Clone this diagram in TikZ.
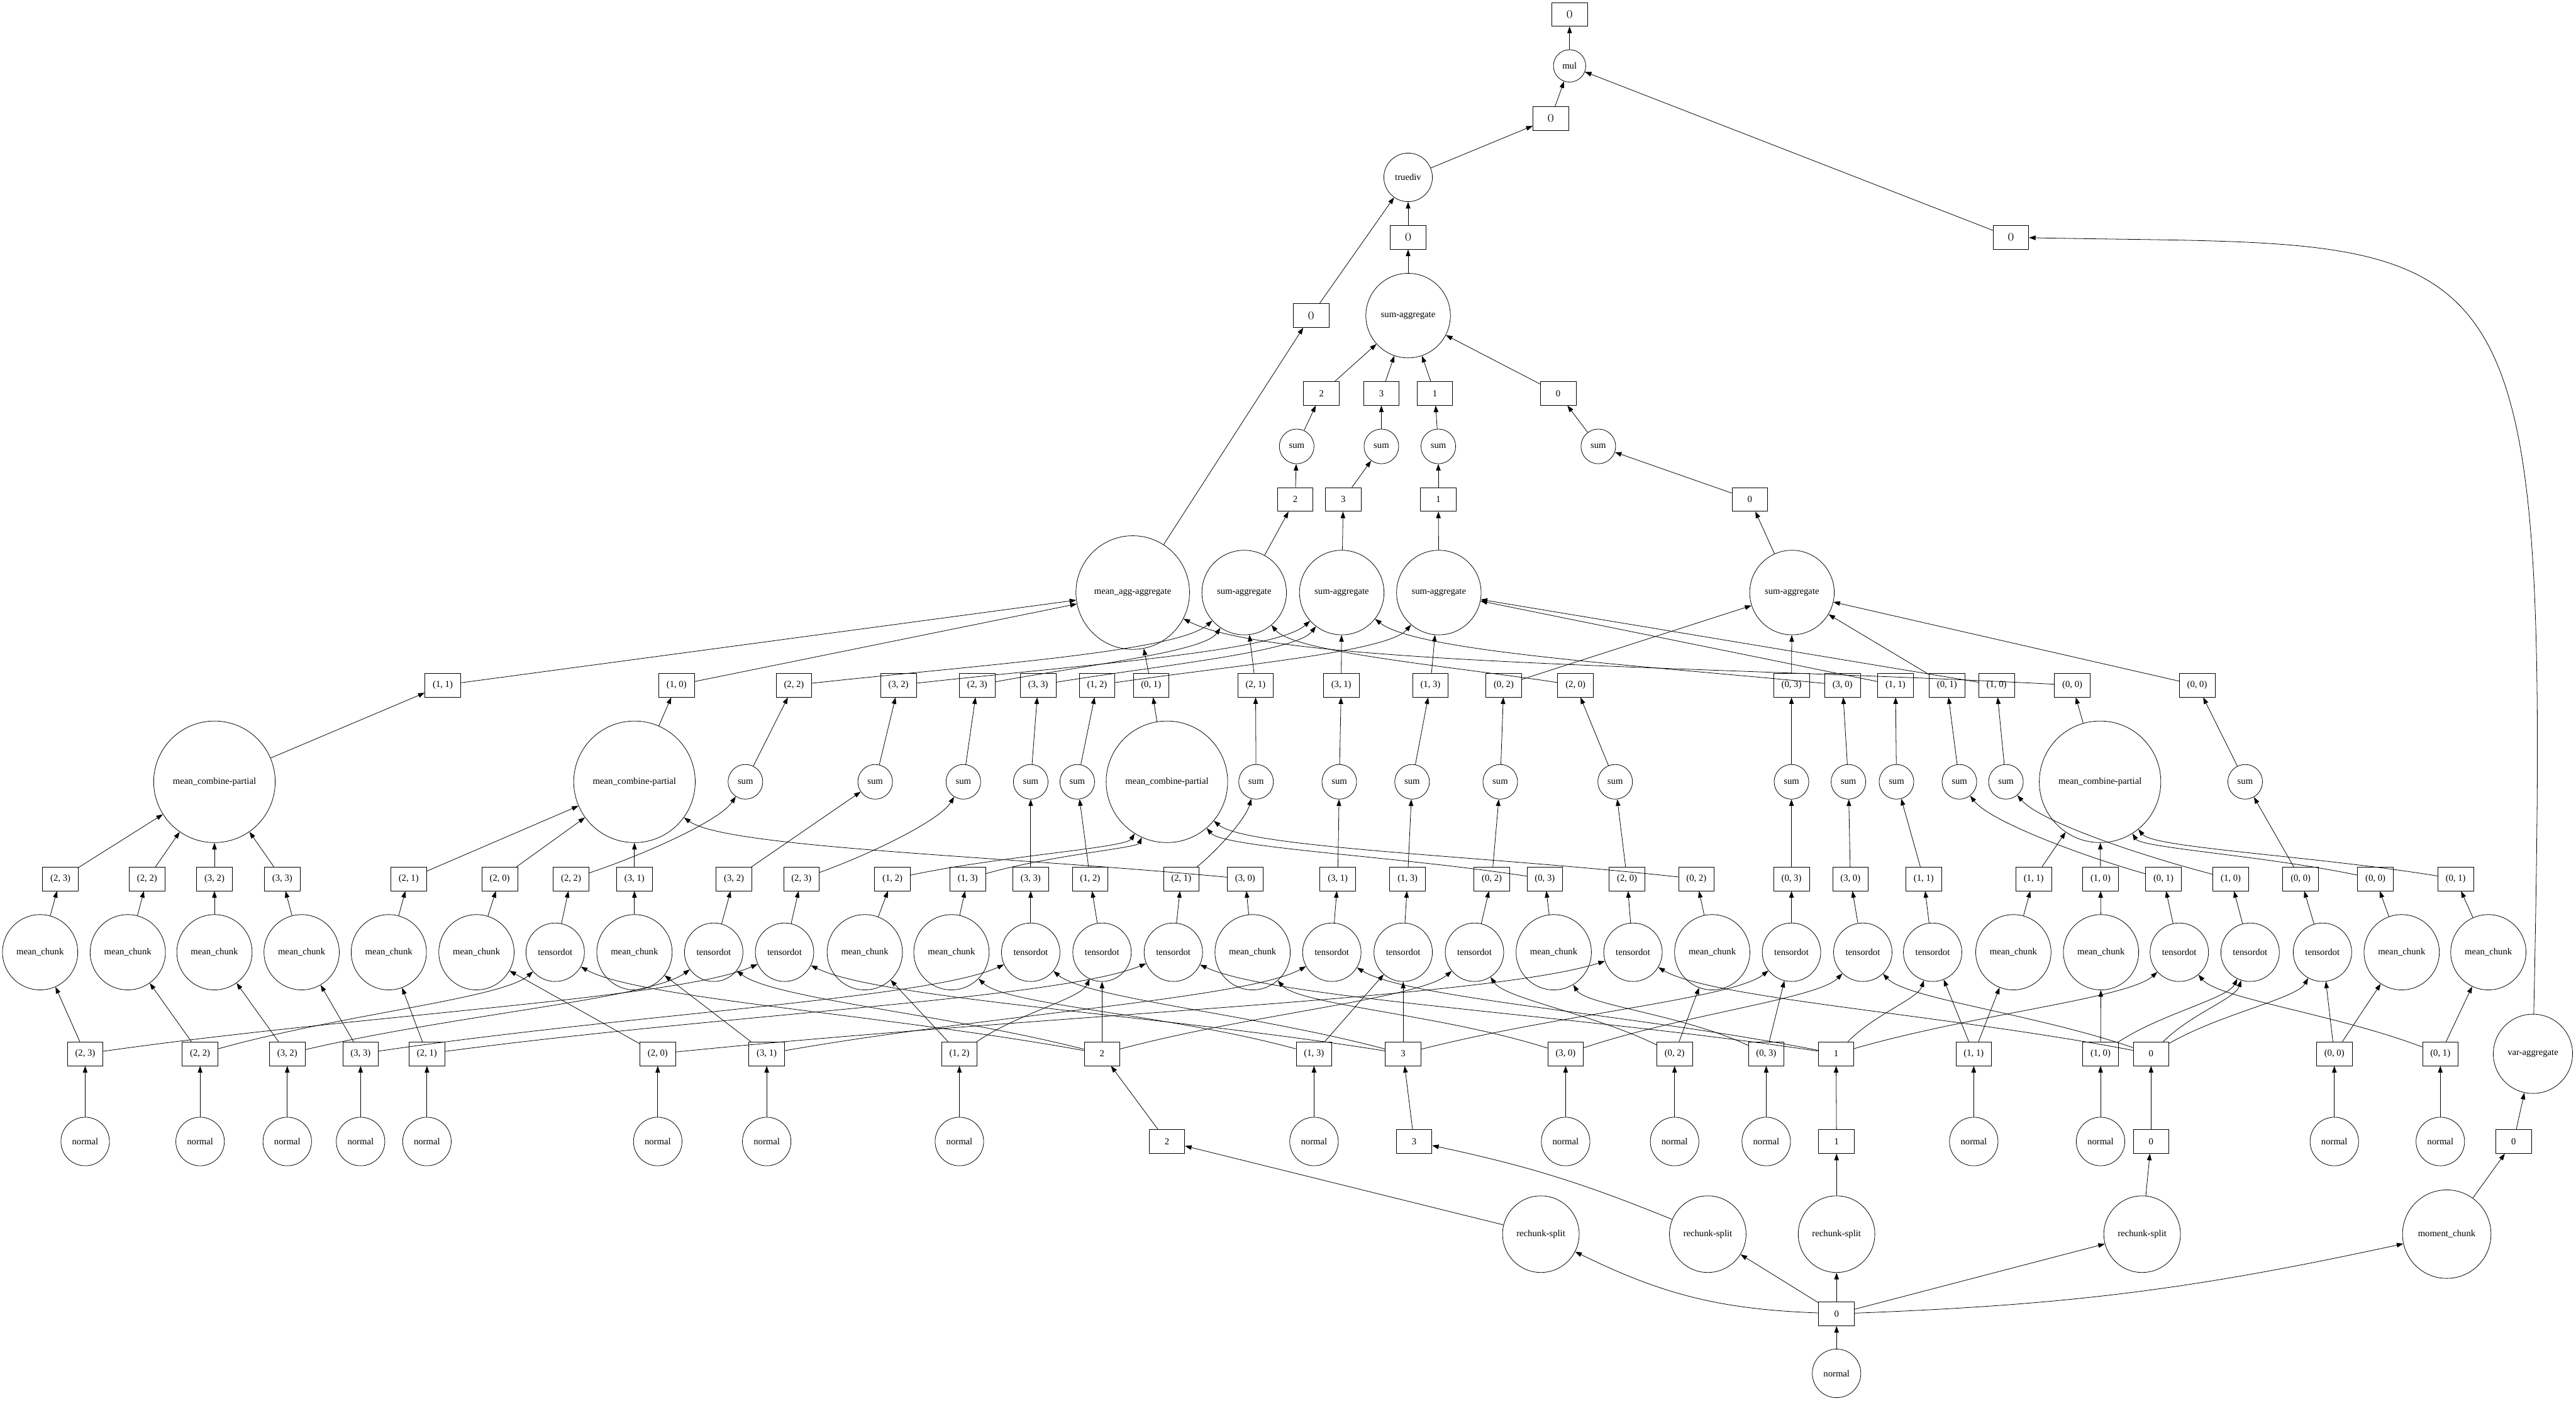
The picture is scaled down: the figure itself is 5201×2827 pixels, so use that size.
\documentclass[tikz,border=0pt]{standalone}
\usepackage{fontspec}
\setmainfont{Liberation Serif}
\usetikzlibrary{arrows.meta,calc}
\tikzset{
  gvbox/.style={draw,rectangle,minimum width=54pt,minimum height=36pt,inner sep=0pt,line width=0.75pt},
  gvcirc/.style={draw,circle,minimum size=#1,inner sep=0pt,line width=0.75pt},
  gvedge/.style={-{Triangle[length=10pt,width=7pt]},line width=0.75pt},
}
% #1 from, #2 to, #3 k1, #4 h1 (rise of first control), #5 k2, #6 h2 (drop of second control)
\newcommand\gvc[6]{\draw[gvedge] let \p1=($(#1)!#3!(#2)$), \p2=($(#2)!#5!(#1)$), \p3=(#1), \p4=(#2) in (#1) .. controls (\x1,\y3+#4) and (\x2,\y4-#6) .. (#2);}
\begin{document}
\begin{tikzpicture}[x=0.75pt,y=-0.75pt,font=\fontsize{14pt}{16pt}\selectfont]
\useasboundingbox (0,0) rectangle (5201,2827);
% ---------- top part
\node[gvbox] (topout) at (3169,29) {()};
\node[gvcirc=49pt] (mul) at (3169,133) {mul};
\node[gvbox] (tdout) at (3131,239) {()};
\node[gvcirc=73.5pt] (truediv) at (2843,358) {truediv};
\node[gvbox] (saout) at (2843,479) {()};
\node[gvbox] (varout) at (4060,479) {()};
\node[gvcirc=128pt] (fsa) at (2843,637) {sum-aggregate};
\node[gvbox] (magout) at (2647,637) {()};
\node[gvbox] (t2) at (2668,794) {2};
\node[gvbox] (t3) at (2789,794) {3};
\node[gvbox] (t1) at (2897,794) {1};
\node[gvbox] (t0) at (3146,794) {0};
\node[gvcirc=52.5pt] (u2) at (2618,901) {sum};
\node[gvcirc=52.5pt] (u3) at (2789,901) {sum};
\node[gvcirc=52.5pt] (u1) at (2904,901) {sum};
\node[gvcirc=52.5pt] (u0) at (3227,901) {sum};
\node[gvbox] (v2) at (2615,1008) {2};
\node[gvbox] (v3) at (2712,1008) {3};
\node[gvbox] (v1) at (2904,1008) {1};
\node[gvbox] (v0) at (3533,1008) {0};
\node[gvcirc=172pt] (mag) at (2287,1196) {mean\_agg-aggregate};
\node[gvcirc=128pt] (sa2) at (2512,1196) {sum-aggregate};
\node[gvcirc=128pt] (sa3) at (2709,1196) {sum-aggregate};
\node[gvcirc=128pt] (sa1) at (2905,1196) {sum-aggregate};
\node[gvcirc=128pt] (sa0) at (3618,1196) {sum-aggregate};
% ---------- mean_combine-partial and their outputs
\node[gvbox] (pA11) at (894,1383) {(1, 1)};
\node[gvbox] (pA10) at (1366,1383) {(1, 0)};
\node[gvbox] (pA01) at (2324,1383) {(0, 1)};
\node[gvbox] (pA00) at (4184,1383) {(0, 0)};
\node[gvcirc=184pt] (mcp11) at (433,1578) {mean\_combine-partial};
\node[gvcirc=184pt] (mcp10) at (1281,1578) {mean\_combine-partial};
\node[gvcirc=184pt] (mcp01) at (2356,1578) {mean\_combine-partial};
\node[gvcirc=184pt] (mcp00) at (4240,1578) {mean\_combine-partial};
% ---------- mean_chunk column
\foreach \i/\j/\cA/\cB in {2/3/81/122, 2/2/258/297, 3/2/433/433, 3/3/609/570, 2/1/785/825, 2/0/962/1009, 3/1/1281/1281, 1/2/1746/1802, 1/3/1921/1954, 3/0/2529/2514, 0/3/3137/3119, 0/2/3457/3425, 1/1/4065/4106, 1/0/4242/4241, 0/0/4849/4796, 0/1/5024/4958}{
  \node[gvcirc=114pt] (MC\i\j) at (\cA,1922) {mean\_chunk};
  \node[gvbox] (mB\i\j) at (\cB,1774) {(\i, \j)};
  \draw[gvedge] (MC\i\j) -- (mB\i\j);
}
% ---------- tensordot column
\foreach \i/\j/\cA/\cB/\cC/\cD in {2/2/1121/1153/1505/1603, 3/2/1441/1482/1767/1814, 2/3/1584/1618/1945/1973, 3/3/2081/2081/2081/2096, 1/2/2225/2201/2175/2215, 2/1/2369/2385/2536/2535, 3/1/2689/2701/2704/2708, 1/3/2833/2842/2851/2888, 0/2/2977/3012/3029/3036, 2/0/3297/3285/3261/3181, 0/3/3617/3617/3617/3617, 3/0/3761/3736/3732/3720, 1/1/3902/3884/3829/3827, 0/1/4400/4368/3956/3931, 1/0/4543/4504/4050/4031, 0/0/4689/4645/4533/4436}{
  \node[gvcirc=88.5pt] (TD\i\j) at (\cA,1922) {tensordot};
  \node[gvbox] (tB\i\j) at (\cB,1774) {(\i, \j)};
  \node[gvcirc=52.5pt] (sm\i\j) at (\cC,1578) {sum};
  \node[gvbox] (qA\i\j) at (\cD,1383) {(\i, \j)};
  \draw[gvedge] (TD\i\j) -- (tB\i\j);
  \draw[gvedge] (sm\i\j) -- (qA\i\j);
}
% ---------- input chunks
\foreach \i/\j/\cA in {2/3/172, 2/2/404, 3/2/580, 3/3/728, 2/1/862, 2/0/1328, 3/1/1548, 1/2/1937, 1/3/2653, 3/0/3161, 0/2/3381, 0/3/3566, 1/1/3985, 1/0/4241, 0/0/4713, 0/1/4927}{
  \node[gvbox] (X\i\j) at (\cA,2127) {(\i, \j)};
  \node[gvcirc=73.5pt] (N\i\j) at (\cA,2304) {normal};
  \draw[gvedge] (N\i\j) -- (X\i\j);
}
\node[gvbox] (Y2) at (2225,2127) {2};
\node[gvbox] (Y3) at (2833,2127) {3};
\node[gvbox] (Y1) at (3707,2127) {1};
\node[gvbox] (Y0) at (4343,2127) {0};
\node[gvcirc=120pt] (VA) at (5114,2127) {var-aggregate};
\node[gvbox] (z2) at (2356,2304) {2};
\node[gvbox] (z3) at (2855,2304) {3};
\node[gvbox] (z1) at (3708,2304) {1};
\node[gvbox] (z0) at (4343,2304) {0};
\node[gvbox] (w0) at (5075,2304) {0};
\node[gvcirc=116pt] (R2) at (3111,2491) {rechunk-split};
\node[gvcirc=116pt] (R3) at (3448,2491) {rechunk-split};
\node[gvcirc=116pt] (R1) at (3708,2491) {rechunk-split};
\node[gvcirc=116pt] (R0) at (4325,2491) {rechunk-split};
\node[gvcirc=134pt] (MOM) at (4940,2491) {moment\_chunk};
\node[gvbox] (src0) at (3708,2652) {0};
\node[gvcirc=73.5pt] (nsrc) at (3708,2772) {normal};
% ---------- bottom edges
\draw[gvedge] (nsrc) -- (src0);
\draw[gvedge] (src0) to[bend left=12] (R2);
\draw[gvedge] (src0) -- (R3);
\draw[gvedge] (src0) -- (R1);
\draw[gvedge] (src0) -- (R0);
\draw[gvedge] (src0) to[bend right=5] (MOM);
\draw[gvedge] (R2) -- (z2);
\draw[gvedge] (R3) to[bend right=5] (z3);
\foreach \a/\b in {R1/z1, R0/z0, MOM/w0, z2/Y2, z3/Y3, z1/Y1, z0/Y0, w0/VA}{\draw[gvedge] (\a) -- (\b);}
% ---------- input chunks -> chunk ops
\foreach \a/\b in {X23/MC23, X22/MC22, X32/MC32, X33/MC33, X21/MC21, X20/MC20, X31/MC31, X12/MC12, X13/TD13, X02/MC02, X03/TD03, X11/MC11, X11/TD11, X10/MC10, X00/MC00, X00/TD00, X01/MC01, Y2/TD12, Y3/TD13}{\draw[gvedge] (\a) -- (\b);}
\foreach \a/\b in {X23/TD23, X22/TD22, X32/TD32, X33/TD33, X21/TD21, X20/TD20, X31/TD31, X12/TD12, X30/TD30, X02/TD02, X10/TD10, X01/TD01, Y2/TD02, Y2/TD22, Y2/TD32, Y3/TD03, Y3/TD23, Y3/TD33, Y1/TD01, Y1/TD11, Y1/TD21, Y1/TD31, Y0/TD00, Y0/TD10, Y0/TD20, Y0/TD30}{\gvc{\a}{\b}{0.4}{60pt}{0.15}{70pt}}
\foreach \a/\b in {X13/MC13, X30/MC30, X03/MC03}{\gvc{\a}{\b}{0.4}{60pt}{0.15}{80pt}}
% ---------- chunk outputs -> combine / sum
\foreach \a/\b in {mB23/mcp11, mB22/mcp11, mB32/mcp11, mB33/mcp11, mB21/mcp10, mB20/mcp10, mB31/mcp10, mB11/mcp00, mB10/mcp00, tB32/sm32, tB33/sm33, tB12/sm12, tB31/sm31, tB13/sm13, tB02/sm02, tB20/sm20, tB03/sm03, tB30/sm30, tB11/sm11, tB00/sm00}{\draw[gvedge] (\a) -- (\b);}
\foreach \a/\b in {mB30/mcp10, mB12/mcp01, mB13/mcp01, mB03/mcp01, mB02/mcp01, mB00/mcp00, mB01/mcp00}{\gvc{\a}{\b}{0.4}{35pt}{0.15}{100pt}}
\foreach \a/\b in {tB22/sm22, tB23/sm23, tB21/sm21, tB01/sm01, tB10/sm10}{\gvc{\a}{\b}{0.4}{35pt}{0.15}{60pt}}
\foreach \a/\b in {mcp11/pA11, mcp10/pA10, mcp01/pA01, mcp00/pA00}{\draw[gvedge] (\a) -- (\b);}
% ---------- to aggregates
\foreach \a/\b in {pA11/mag, pA10/mag, pA01/mag, qA21/sa2, qA31/sa3, qA13/sa1, qA11/sa1, qA10/sa1, qA03/sa0, qA02/sa0, qA01/sa0, qA00/sa0}{\draw[gvedge] (\a) -- (\b);}
\gvc{pA00}{mag}{0.4}{30pt}{0.15}{110pt}
\foreach \a/\b in {qA22/sa2, qA23/sa2, qA20/sa2, qA32/sa3, qA33/sa3, qA30/sa3, qA12/sa1}{\gvc{\a}{\b}{0.4}{30pt}{0.15}{90pt}}
% ---------- top edges
\foreach \a/\b in {sa2/v2, sa3/v3, sa1/v1, sa0/v0, v2/u2, v3/u3, v1/u1, v0/u0, u2/t2, u3/t3, u1/t1, u0/t0, t2/fsa, t3/fsa, t1/fsa, t0/fsa, fsa/saout, saout/truediv, mag/magout, magout/truediv, truediv/tdout, tdout/mul, mul/topout, varout/mul}{\draw[gvedge] (\a) -- (\b);}
\draw[gvedge] (VA) .. controls (5150,400) and (5100,500) .. (varout);
\end{tikzpicture}
\end{document}
